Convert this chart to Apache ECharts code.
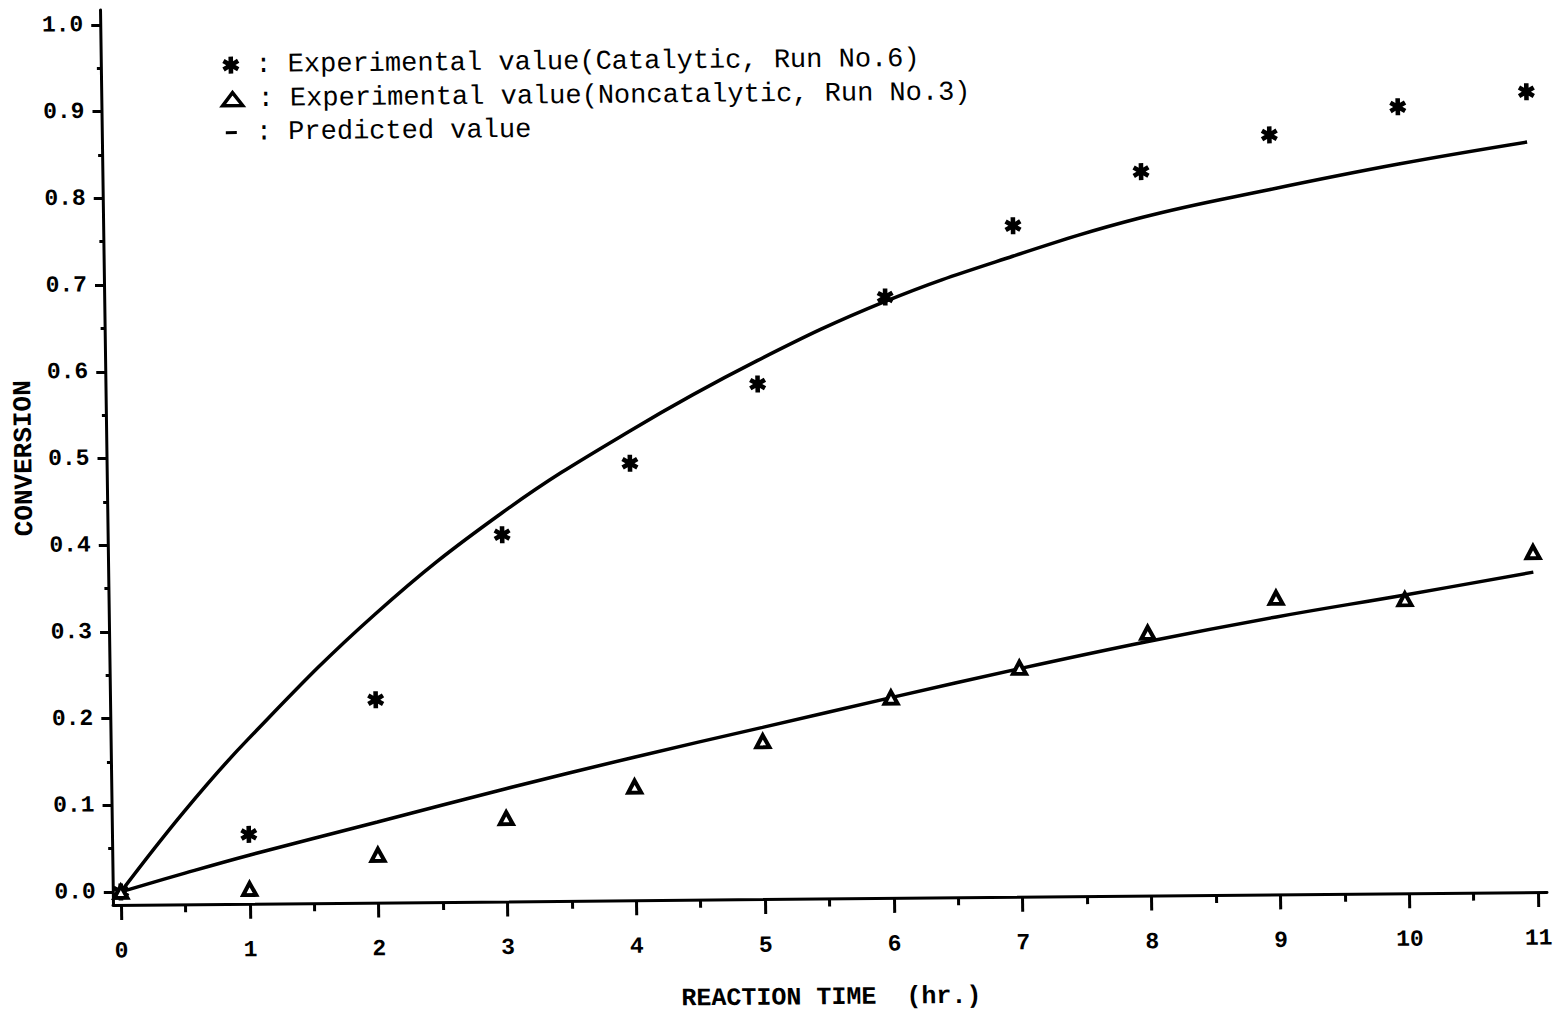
<!DOCTYPE html>
<html>
<head>
<meta charset="utf-8">
<title>Conversion vs reaction time</title>
<script src="https://cdn.jsdelivr.net/npm/echarts@6/dist/echarts.min.js"></script>
<style>
  html, body { margin: 0; padding: 0; background: #fff; overflow: hidden; }
  #chart {
    width: 1557px; height: 1040px;
    /* the plotted sheet sits slightly turned and sheared */
    transform: matrix(1, -0.0091, 0.0145, 1, 0, 0);
    transform-origin: 113px 905px;
  }
</style>
</head>
<body>
<div id="chart"></div>
<script>
// Reaction time (hr.) of the measurements
const hours = [0, 1, 2, 3, 4, 5, 6, 7, 8, 9, 10, 11];
// Measured conversion
const catalyticExp    = [0, 0.065, 0.219, 0.408, 0.489, 0.579, 0.678, 0.759, 0.820, 0.861, 0.892, 0.908];
const noncatalyticExp = [0, 0.002, 0.040, 0.081, 0.116, 0.167, 0.216, 0.249, 0.288, 0.327, 0.324, 0.377];
// Model prediction, sampled along the curves
const predHours        = [0, 0.5, 1, 2, 3, 4, 5, 6, 7, 8, 9, 10, 11];
const catalyticPred    = [0, 0.092, 0.174, 0.317, 0.433, 0.526, 0.606, 0.673, 0.724, 0.767, 0.798, 0.826, 0.850];
const noncatalyticPred = [0, 0.021, 0.041, 0.078, 0.115, 0.150, 0.183, 0.216, 0.248, 0.278, 0.305, 0.329, 0.354];

// Tick positions
const xTicks      = [0, 1, 2, 3, 4, 5, 6, 7, 8, 9, 10, 11];
const xMinorTicks = [0.5, 1.5, 2.5, 3.5, 4.5, 5.5, 6.5, 7.5, 8.5, 9.5, 10.5];
const yTicks      = [0, 0.1, 0.2, 0.3, 0.4, 0.5, 0.6, 0.7, 0.8, 0.9, 1.0];
const yMinorTicks = [0.05, 0.15, 0.25, 0.35, 0.45, 0.55, 0.65, 0.75, 0.85, 0.95];

const CAT_NAME    = 'Experimental value(Catalytic, Run No.6)';
const NONCAT_NAME = 'Experimental value(Noncatalytic, Run No.3)';
const PRED_NAME   = 'Predicted value';

// axes run a little past the first and last ticks
const X_MIN = -0.0621, X_MAX = 11.07;
const Y_MIN = -0.015,  Y_MAX = 1.0173;

// six-armed asterisk marker
function asteriskPath(w) {
  const pts = [];
  for (let k = 0; k < 6; k++) {
    const phi = (-90 + 60 * k) * Math.PI / 180;
    const dx = Math.cos(phi), dy = Math.sin(phi);
    const px = -dy, py = dx;
    pts.push([dx - px * w, dy - py * w]);
    pts.push([dx + px * w, dy + py * w]);
    const psi = phi + Math.PI / 6;
    pts.push([2 * w * Math.cos(psi), 2 * w * Math.sin(psi)]);
  }
  return 'path://M' + pts.map(p => (p[0] * 50 + 50).toFixed(2) + ',' + (p[1] * 50 + 50).toFixed(2)).join(' L') + ' Z';
}
const ASTERISK = asteriskPath(0.27);

const INK = '#000';
const axisFont = { fontFamily: 'Liberation Mono', fontWeight: 'bold', color: INK };
const legendText = { fontFamily: 'Liberation Mono', fontSize: 27, color: INK, lineHeight: 30 };

function pairs(xs, ys) { return xs.map((x, i) => [x, ys[i]]); }

const chart = echarts.init(document.getElementById('chart'), null, { renderer: 'svg' });

const option = {
  backgroundColor: '#fff',
  animation: false,
  grid: { left: 113, right: 10, top: 10, bottom: 135, containLabel: false, outerBoundsMode: 'none' },
  legend: [
    {
      data: [{ name: CAT_NAME, icon: ASTERISK }],
      left: 234.5, top: 51.3, padding: 0,
      itemWidth: 17, itemHeight: 17,
      selectedMode: false,
      formatter: n => ': ' + n,
      textStyle: Object.assign({ padding: [0, 0, 0, 11] }, legendText)
    },
    {
      data: [{ name: NONCAT_NAME, icon: 'triangle',
               itemStyle: { color: '#fff', borderColor: INK, borderWidth: 3.5, opacity: 1 } }],
      left: 232.5, top: 85.3, padding: 0,
      itemWidth: 20, itemHeight: 13,
      selectedMode: false,
      formatter: n => ': ' + n,
      textStyle: Object.assign({ padding: [0, 0, 0, 10] }, legendText)
    },
    {
      data: [{ name: PRED_NAME, icon: 'rect', itemStyle: { color: INK } }],
      left: 237, top: 118.8, padding: 0,
      itemWidth: 11, itemHeight: 3,
      selectedMode: false,
      formatter: n => ': ' + n,
      textStyle: Object.assign({ padding: [0, 0, 0, 14] }, legendText)
    }
  ],
  xAxis: [
    {
      type: 'value', min: X_MIN, max: X_MAX, position: 'bottom',
      axisLine: { show: true, onZero: false, lineStyle: { color: INK, width: 3 } },
      axisTick: { show: true, customValues: xTicks, length: 15, lineStyle: { color: INK, width: 3 } },
      axisLabel: Object.assign({ customValues: xTicks, margin: 35, fontSize: 23,
                                 formatter: v => String(Math.round(v)) }, axisFont),
      splitLine: { show: false },
      name: 'REACTION TIME  (hr.)', nameLocation: 'middle', nameGap: 89,
      nameTextStyle: Object.assign({ fontSize: 25, lineHeight: 20 }, axisFont)
    },
    {
      type: 'value', min: X_MIN, max: X_MAX, position: 'bottom',
      axisLine: { show: false, onZero: false },
      axisTick: { show: true, customValues: xMinorTicks, length: 8, lineStyle: { color: INK, width: 3 } },
      axisLabel: { show: false },
      splitLine: { show: false }
    }
  ],
  yAxis: [
    {
      type: 'value', min: Y_MIN, max: Y_MAX, position: 'left',
      axisLine: { show: true, onZero: false, lineStyle: { color: INK, width: 3 } },
      axisTick: { show: true, customValues: yTicks, length: 9, lineStyle: { color: INK, width: 3 } },
      axisLabel: Object.assign({ customValues: yTicks, margin: 17, fontSize: 23,
                                 formatter: v => v.toFixed(1) }, axisFont),
      splitLine: { show: false },
      name: 'CONVERSION', nameLocation: 'middle', nameGap: 69, nameRotate: 90,
      nameTextStyle: Object.assign({ fontSize: 26 }, axisFont)
    },
    {
      type: 'value', min: Y_MIN, max: Y_MAX, position: 'left',
      axisLine: { show: false, onZero: false },
      axisTick: { show: true, customValues: yMinorTicks, length: 4, lineStyle: { color: INK, width: 3 } },
      axisLabel: { show: false },
      splitLine: { show: false }
    }
  ],
  series: [
    {
      type: 'line', name: PRED_NAME, data: pairs(predHours, catalyticPred),
      smooth: 0.4, symbol: 'none',
      lineStyle: { color: INK, width: 3.5 }, itemStyle: { color: INK }, z: 2, silent: true
    },
    {
      type: 'line', name: PRED_NAME, data: pairs(predHours, noncatalyticPred),
      smooth: 0.4, symbol: 'none',
      lineStyle: { color: INK, width: 3.5 }, itemStyle: { color: INK }, z: 2, silent: true
    },
    {
      type: 'scatter', name: CAT_NAME, data: pairs(hours, catalyticExp),
      symbol: ASTERISK, symbolSize: [17, 17],
      itemStyle: { color: INK, opacity: 1 }, z: 3, silent: true
    },
    {
      type: 'scatter', name: NONCAT_NAME, data: pairs(hours, noncatalyticExp),
      symbol: 'triangle', symbolSize: [13, 12],
      itemStyle: { color: '#fff', borderColor: INK, borderWidth: 4, opacity: 1 }, z: 4, silent: true
    }
  ]
};

chart.setOption(option);
</script>
</body>
</html>
